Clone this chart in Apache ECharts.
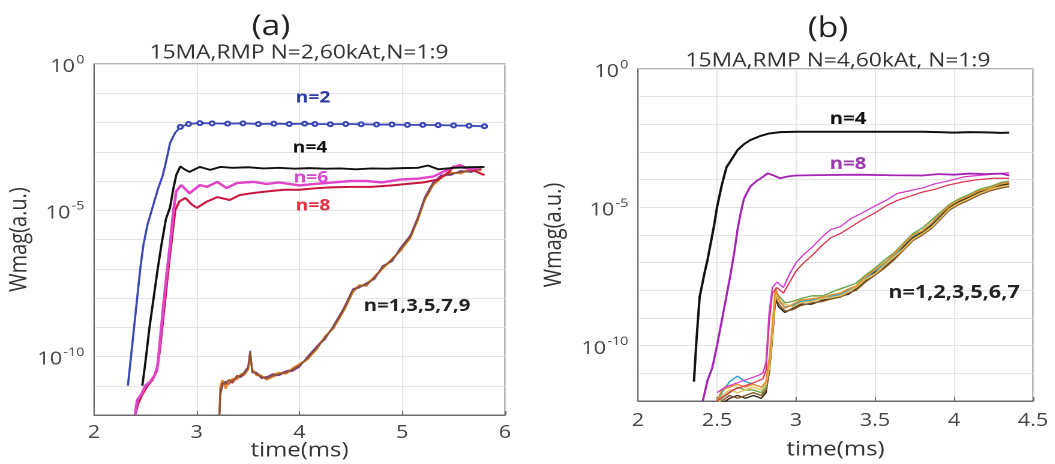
<!DOCTYPE html>
<html><head><meta charset="utf-8">
<script src="https://cdn.jsdelivr.net/npm/echarts@6/dist/echarts.min.js"></script>
<style>
html,body{margin:0;padding:0;background:#fff;overflow:hidden}
#wrap{width:1055px;height:464px;overflow:hidden;position:relative}
#chart{width:879.1667px;height:464px;transform:scaleX(1.2);transform-origin:0 0}
</style></head><body><div id="wrap"><div id="chart"></div></div>
<script>
// ---------- data: values are read as log10(Wmag) on the log axis ----------
// panel (a) : 15MA, RMP N=2
const aTitle = '(a)';
const aSubtitle = '15MA,RMP N=2,60kAt,N=1:9';
const aN2T = [2.33,2.36,2.39,2.42,2.45,2.48,2.52,2.57,2.62,2.67,2.71,2.74,2.79,2.84,2.92,3.03,3.15,3.3,3.45,3.6,3.75,3.9,4.05,4.15,4.3,4.45,4.6,4.75,4.9,5.05,5.2,5.35,5.5,5.65,5.8];
const aN2E = [-11.0,-10.0,-9.0,-8.0,-7.0,-6.2,-5.5,-4.9,-4.3,-3.8,-3.2,-2.7,-2.35,-2.15,-2.05,-2.02,-2.03,-2.04,-2.03,-2.05,-2.04,-2.05,-2.04,-2.05,-2.06,-2.05,-2.06,-2.07,-2.07,-2.08,-2.08,-2.09,-2.1,-2.11,-2.13];
const aN4T = [2.47,2.50,2.54,2.58,2.62,2.66,2.70,2.74,2.77,2.80,2.84,2.88,2.93,2.98,3.03,3.13,3.23,3.35,3.5,3.65,3.8,3.95,4.1,4.25,4.4,4.55,4.7,4.85,5.0,5.15,5.25,5.35,5.5,5.65,5.8];
const aN4E = [-11.0,-10.2,-9.0,-8.0,-7.0,-6.1,-5.3,-4.9,-4.3,-3.8,-3.5,-3.6,-3.69,-3.6,-3.52,-3.62,-3.52,-3.55,-3.53,-3.57,-3.55,-3.58,-3.56,-3.58,-3.57,-3.6,-3.57,-3.58,-3.56,-3.55,-3.47,-3.6,-3.55,-3.53,-3.52];
const aN6T = [2.40,2.42,2.46,2.50,2.55,2.59,2.62,2.65,2.68,2.71,2.74,2.77,2.80,2.85,2.93,3.03,3.10,3.20,3.29,3.39,3.55,3.68,3.80,4.00,4.15,4.33,4.50,4.65,4.80,4.98,5.15,5.30,5.45,5.56,5.65,5.76];
const aN6E = [-12.0,-11.5,-11.3,-11.0,-10.85,-10.65,-10.3,-9.2,-8.1,-7.1,-6.2,-5.1,-4.35,-4.14,-4.42,-4.14,-4.2,-4.03,-4.24,-4.07,-4.03,-4.1,-4.05,-4.15,-4.1,-4.05,-4.0,-4.0,-4.05,-3.95,-3.92,-3.85,-3.6,-3.45,-3.6,-3.55];
const aN8T = [2.40,2.43,2.47,2.52,2.57,2.61,2.64,2.67,2.70,2.73,2.76,2.79,2.83,2.89,2.95,3.00,3.10,3.20,3.32,3.42,3.55,3.70,3.85,4.00,4.15,4.30,4.50,4.70,4.90,5.05,5.20,5.35,5.45,5.50,5.60,5.70,5.80];
const aN8E = [-12.0,-11.6,-11.3,-11.0,-10.8,-10.5,-9.8,-8.8,-7.8,-6.8,-5.9,-5.0,-4.7,-4.58,-4.8,-4.92,-4.7,-4.55,-4.65,-4.48,-4.41,-4.35,-4.3,-4.3,-4.25,-4.22,-4.2,-4.2,-4.15,-4.1,-4.05,-3.95,-3.7,-3.5,-3.55,-3.65,-3.8];
const aOddT = [3.22,3.23,3.25,3.28,3.31,3.35,3.39,3.43,3.47,3.50,3.52,3.54,3.58,3.63,3.68,3.74,3.80,3.87,3.93,4.00,4.08,4.17,4.25,4.33,4.43,4.52,4.58,4.65,4.73,4.81,4.90,4.98,5.08,5.15,5.22,5.30,5.38,5.47,5.57,5.67,5.77];
const aN1E = [-12.0,-11.2,-10.9,-10.95,-10.8,-10.85,-10.7,-10.65,-10.55,-10.4,-9.85,-10.5,-10.6,-10.7,-10.75,-10.65,-10.6,-10.55,-10.45,-10.3,-10.05,-9.7,-9.35,-9.0,-8.4,-7.75,-7.6,-7.55,-7.3,-6.95,-6.7,-6.35,-5.9,-5.3,-4.6,-4.1,-3.85,-3.75,-3.7,-3.65,-3.6];
const aN3E = [-12.0,-11.0,-10.8,-11.1,-10.9,-10.75,-10.8,-10.6,-10.6,-10.45,-10.0,-10.45,-10.65,-10.65,-10.8,-10.7,-10.55,-10.6,-10.4,-10.25,-10.1,-9.75,-9.3,-9.05,-8.45,-7.8,-7.55,-7.6,-7.25,-7.0,-6.65,-6.4,-5.95,-5.35,-4.65,-4.15,-3.9,-3.7,-3.75,-3.6,-3.65];
const aN5E = [-12.0,-11.3,-11.0,-10.85,-10.95,-10.8,-10.75,-10.7,-10.5,-10.35,-9.8,-10.55,-10.55,-10.75,-10.7,-10.6,-10.65,-10.5,-10.5,-10.35,-10.0,-9.65,-9.4,-8.95,-8.35,-7.7,-7.65,-7.5,-7.35,-6.9,-6.75,-6.3,-5.85,-5.25,-4.55,-4.05,-3.8,-3.8,-3.65,-3.7,-3.55];
const aN7E = [-12.0,-11.1,-10.95,-10.9,-10.85,-10.9,-10.65,-10.7,-10.6,-10.4,-9.9,-10.5,-10.6,-10.7,-10.7,-10.7,-10.6,-10.5,-10.45,-10.3,-10.05,-9.65,-9.35,-9.0,-8.4,-7.7,-7.6,-7.55,-7.3,-6.95,-6.7,-6.35,-5.9,-5.3,-4.6,-4.1,-3.85,-3.75,-3.7,-3.65,-3.6];
const aN9E = [-12.0,-11.0,-10.85,-11.0,-10.8,-10.8,-10.75,-10.6,-10.55,-10.45,-9.95,-10.45,-10.55,-10.65,-10.8,-10.6,-10.55,-10.55,-10.5,-10.3,-10.1,-9.7,-9.3,-9.0,-8.45,-7.8,-7.6,-7.5,-7.3,-7.0,-6.7,-6.4,-5.9,-5.35,-4.6,-4.1,-3.85,-3.75,-3.7,-3.6,-3.6];

// panel (b) : 15MA, RMP N=4
const bTitle = '(b)';
const bSubtitle = '15MA,RMP N=4,60kAt, N=1:9';
const bN4T = [2.354,2.37,2.39,2.42,2.44,2.46,2.48,2.50,2.53,2.56,2.60,2.63,2.67,2.71,2.77,2.83,2.90,3.0,3.2,3.4,3.6,3.8,3.9,4.0,4.1,4.2,4.3,4.35];
const bN4E = [-11.3,-9.8,-8.24,-7.4,-6.9,-6.3,-5.7,-5.0,-4.2,-3.55,-3.2,-2.93,-2.72,-2.57,-2.43,-2.33,-2.28,-2.27,-2.27,-2.27,-2.27,-2.27,-2.28,-2.3,-2.28,-2.29,-2.31,-2.3];
const bN8T = [2.41,2.44,2.47,2.50,2.52,2.55,2.58,2.61,2.63,2.65,2.67,2.71,2.75,2.79,2.82,2.86,2.90,2.95,3.0,3.2,3.4,3.6,3.8,3.9,4.0,4.1,4.2,4.3,4.35];
const bN8E = [-12.0,-11.25,-10.8,-10.0,-9.4,-8.5,-7.6,-6.6,-5.8,-5.2,-4.7,-4.25,-4.05,-3.9,-3.77,-3.85,-3.95,-3.88,-3.85,-3.83,-3.82,-3.84,-3.85,-3.8,-3.82,-3.78,-3.8,-3.78,-3.85];
const bHighT = [2.50,2.55,2.60,2.65,2.70,2.75,2.79,2.81,2.83,2.85,2.88,2.92,2.96,3.00,3.05,3.10,3.16,3.22,3.28,3.35,3.42,3.50,3.57,3.64,3.72,3.80,3.88,3.96,4.06,4.15,4.25,4.35];
const bMagE = [-11.7,-11.5,-11.4,-11.3,-11.2,-11.1,-11.0,-10.6,-8.8,-7.9,-7.7,-7.9,-7.4,-7.0,-6.7,-6.45,-6.1,-5.8,-5.7,-5.4,-5.2,-4.95,-4.75,-4.5,-4.4,-4.3,-4.15,-4.05,-3.9,-3.85,-3.8,-3.75];
const bRedE = [-12.0,-11.8,-11.6,-11.5,-11.4,-11.3,-11.2,-10.9,-9.2,-8.1,-7.9,-8.1,-7.7,-7.3,-7.0,-6.75,-6.4,-6.1,-5.95,-5.7,-5.45,-5.2,-4.95,-4.75,-4.6,-4.45,-4.35,-4.2,-4.08,-4.0,-3.95,-3.95];
const bLowT = [2.50,2.53,2.58,2.63,2.68,2.73,2.78,2.81,2.83,2.85,2.87,2.89,2.93,2.98,3.03,3.10,3.17,3.23,3.28,3.33,3.38,3.44,3.50,3.56,3.62,3.68,3.74,3.80,3.86,3.92,3.97,4.03,4.09,4.16,4.23,4.30,4.35];
const bCyanE = [-12.2,-11.7,-11.3,-11.1,-11.3,-11.4,-11.5,-11.4,-10.7,-9.5,-8.2,-8.4,-8.6,-8.55,-8.4,-8.35,-8.3,-8.2,-8.15,-8.0,-7.9,-7.55,-7.3,-7.05,-6.75,-6.4,-6.05,-5.9,-5.6,-5.25,-5.0,-4.8,-4.65,-4.45,-4.3,-4.2,-4.15];
const bOrangeE = [-12.0,-11.6,-11.5,-11.4,-11.5,-11.4,-11.5,-11.3,-10.5,-9.3,-7.9,-8.3,-8.65,-8.5,-8.35,-8.3,-8.25,-8.15,-8.1,-7.95,-7.85,-7.5,-7.25,-7.0,-6.7,-6.35,-6.0,-5.85,-5.55,-5.2,-4.95,-4.75,-4.6,-4.4,-4.3,-4.15,-4.1];
const bYellowE = [-12.2,-11.8,-11.6,-11.7,-11.6,-11.5,-11.6,-11.4,-10.8,-9.6,-8.1,-8.4,-8.5,-8.6,-8.45,-8.4,-8.3,-8.25,-8.2,-8.05,-7.9,-7.6,-7.4,-7.1,-6.8,-6.5,-6.15,-5.95,-5.7,-5.35,-5.05,-4.85,-4.7,-4.5,-4.35,-4.25,-4.2];
const bGreenE = [-12.3,-11.9,-11.7,-11.5,-11.6,-11.6,-11.7,-11.5,-10.6,-9.4,-8.0,-8.2,-8.45,-8.4,-8.3,-8.2,-8.2,-8.05,-7.95,-7.85,-7.75,-7.45,-7.2,-6.9,-6.65,-6.3,-5.95,-5.75,-5.45,-5.15,-4.9,-4.7,-4.55,-4.35,-4.25,-4.1,-4.05];
const bBrownE = [-12.5,-12.0,-11.8,-11.9,-11.8,-11.7,-11.8,-11.6,-11.0,-9.8,-8.2,-8.5,-8.75,-8.7,-8.55,-8.45,-8.4,-8.3,-8.25,-8.1,-8.0,-7.7,-7.45,-7.2,-6.9,-6.55,-6.2,-6.0,-5.75,-5.4,-5.1,-4.9,-4.75,-4.55,-4.4,-4.3,-4.25];
const bDarkE = [-12.4,-12.1,-11.9,-11.8,-11.9,-11.8,-11.9,-11.7,-10.9,-9.7,-8.3,-8.6,-8.8,-8.65,-8.5,-8.5,-8.35,-8.3,-8.2,-8.15,-7.95,-7.65,-7.35,-7.15,-6.85,-6.45,-6.1,-5.9,-5.65,-5.3,-5.0,-4.8,-4.65,-4.45,-4.35,-4.2,-4.15];

// axes
const yLabelExps = [0, -5, -10];
const yName = 'Wmag(a.u.)';
const xName = 'time(ms)';
const aLabels = ['n=2','n=4','n=6','n=8','n=1,3,5,7,9'];
const bLabels = ['n=4','n=8','n=1,2,3,5,6,7'];

// ---------- layout ----------
const SX = 1.2;               // the figure is horizontally stretched
const px = v => v / SX;
const FONT = "'Open Sans','DejaVu Sans',sans-serif";
const GRID_C = '#e4e4e4';
const AX_C = '#6b6b6b';

const chart = echarts.init(document.getElementById('chart'), null, {devicePixelRatio: 2});

function mk(t, e) { return t.map((x, i) => [x, Math.pow(10, e[i])]); }
function line(gi, t, e, color, w, z) {
  return {type:'line', xAxisIndex:gi, yAxisIndex:gi, data: mk(t, e), symbol:'none', showSymbol:false,
    lineStyle:{color:color, width:w}, itemStyle:{color:color}, z: z || 2, animation:false, silent:true};
}
function yAxis(gi, nameGap) {
  return {type:'log', logBase:10, gridIndex:gi, min:1e-12, max:1, interval:1,
    name:yName, nameLocation:'middle', nameGap:nameGap, nameMoveOverlap:false,
    nameTextStyle:{fontFamily:FONT, fontSize:20, color:'#333'},
    axisLine:{show:true, lineStyle:{color:AX_C}}, axisTick:{show:false},
    splitLine:{show:true, lineStyle:{color:GRID_C, width:1}},
    axisLabel:{interval:0, margin:8, color:'#444', fontFamily:FONT,
      formatter: function (v) {
        const ex = Math.round(Math.log10(v));
        return yLabelExps.indexOf(ex) >= 0 ? '{b|10}{s|' + ex + '}' : '';
      },
      rich:{b:{fontSize:18, fontFamily:FONT, color:'#444', padding:[6,0,0,0]},
            s:{fontSize:12, fontFamily:FONT, color:'#444', padding:[0,0,8,1]}}}
  };
}
function xAxis(gi, min, max, interval, margin, nameGap) {
  return {type:'value', gridIndex:gi, min:min, max:max, interval:interval,
    name:xName, nameLocation:'middle', nameGap:nameGap, nameMoveOverlap:false,
    nameTextStyle:{fontFamily:FONT, fontSize:20, color:'#333'},
    axisLine:{show:true, onZero:false, lineStyle:{color:AX_C}},
    axisTick:{show:true, inside:true, length:4, lineStyle:{color:AX_C}},
    splitLine:{show:true, lineStyle:{color:GRID_C, width:1}},
    axisLabel:{interval:0, margin:margin, fontSize:18, fontFamily:FONT, color:'#444',
      formatter: v => String(v)}
  };
}
function txt(text, x, y, size, color, weight, z) {
  return {type:'text', x:px(x), y:y, z: z == null ? 10 : z,
    style:{text:text, fill:color, fontFamily:FONT, fontSize:size, fontWeight:weight || 'normal',
      align:'center', verticalAlign:'middle'}};
}

const series = [
  // panel a
  line(0, aOddT, aN9E, '#d9a441', 1.5),
  line(0, aOddT, aN7E, '#c9312c', 1.5),
  line(0, aOddT, aN5E, '#7b3f8c', 1.5),
  line(0, aOddT, aN3E, '#e6812a', 1.5),
  line(0, aOddT, aN1E, '#8a5432', 1.4),
  line(0, aN8T, aN8E, '#c8163f', 2.0),
  line(0, aN6T, aN6E, '#e044c8', 2.4),
  line(0, aN4T, aN4E, '#111111', 1.9),
  Object.assign(line(0, aN2T, aN2E, '#3b48b5', 1.8), {
    symbol:'emptyCircle', showSymbol:true,
    symbolSize: v => (v[1] > 5e-3 ? 4 : 0)
  }),
  // panel b
  line(1, bLowT, bCyanE, '#2fa4c8', 1.4),
  line(1, bLowT, bDarkE, '#3a2a1a', 1.4),
  line(1, bLowT, bBrownE, '#8b5a2b', 1.4),
  line(1, bLowT, bGreenE, '#6aa84f', 1.4),
  line(1, bLowT, bYellowE, '#e2c35a', 1.4),
  line(1, bLowT, bOrangeE, '#e8902e', 1.4),
  line(1, bHighT, bRedE, '#e0304e', 1.2),
  line(1, bHighT, bMagE, '#d237d2', 1.2),
  line(1, bN8T, bN8E, '#a524b5', 1.8),
  line(1, bN4T, bN4E, '#111111', 2.0)
];

const option = {
  backgroundColor:'#ffffff',
  animation:false,
  grid:[
    {left:px(94), top:64, width:px(411), height:351, show:true, borderColor:AX_C, borderWidth:1,
     backgroundColor:'transparent', containLabel:false, outerBoundsMode:'none'},
    {left:px(638), top:69, width:px(395), height:332, show:true, borderColor:AX_C, borderWidth:1,
     backgroundColor:'transparent', containLabel:false, outerBoundsMode:'none'}
  ],
  xAxis:[ xAxis(0, 2, 6, 1, 9, 26), xAxis(1, 2, 4.5, 0.5, 11, 39) ],
  yAxis:[ yAxis(0, 52), yAxis(1, 60) ],
  series: series,
  graphic:[
    txt(aTitle, 271, 27, 28, '#222'),
    txt(aSubtitle, 299, 53, 19, '#333'),
    txt(bTitle, 828, 29, 28, '#222'),
    txt(bSubtitle, 838, 61, 19, '#333'),
    txt(aLabels[0], 313, 98, 16, '#2d3aa0', 'bold'),
    txt(aLabels[1], 310, 148, 16, '#111', 'bold'),
    txt(aLabels[2], 311, 178, 16, '#d848d0', 'bold', 1),
    txt(aLabels[3], 313, 206, 16, '#e0303f', 'bold', 1),
    txt(aLabels[4], 417, 306, 17, '#222', 'bold'),
    txt(bLabels[0], 848, 119, 17, '#111', 'bold'),
    txt(bLabels[1], 848, 164, 17, '#9a38b0', 'bold'),
    txt(bLabels[2], 954, 293, 18, '#222', 'bold')
  ]
};
chart.setOption(option);
</script>
</body></html>
